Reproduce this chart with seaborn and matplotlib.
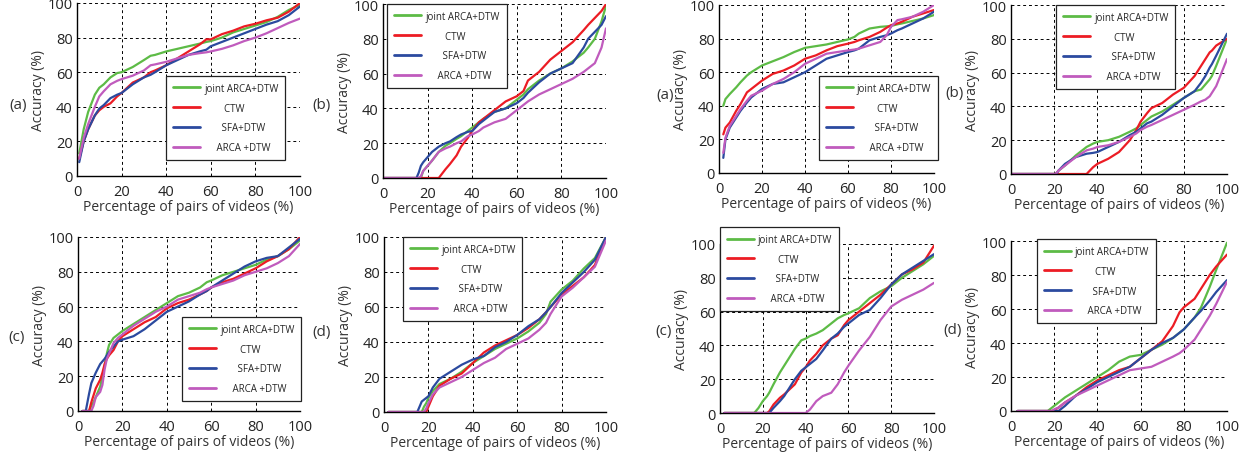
import matplotlib
matplotlib.use('Agg')
import matplotlib.pyplot as plt
import pandas as pd
import seaborn as sns

methods = ['joint ARCA+DTW', 'CTW', 'SFA+DTW', 'ARCA +DTW']
colors = ['#5dbb46', '#ec1c24', '#2b4a9f', '#c05bbd']

# top row, left half (a)
p1_x = [1, 3, 5, 8, 10, 12, 15, 18, 20, 25, 30, 33, 35, 40, 45, 50, 55, 58, 60, 65, 70, 75, 80, 85, 90, 95, 100]
p1_joint = [13, 27, 37, 47, 51, 53, 57, 59.5, 60, 63, 67, 69.5, 70, 72, 73.5, 75, 76.5, 77.5, 78, 80, 83, 85, 87, 89, 92, 96, 99]
p1_ctw = [10, 20, 27, 35, 38, 40, 42, 46, 48, 54, 57, 60, 61, 64, 68, 72, 76, 79, 79, 82, 84, 86.5, 88, 90, 91.5, 95, 100]
p1_sfa = [8, 20, 27, 35, 39, 41, 45, 47, 48, 53, 57, 58.5, 60, 64, 67, 70, 72, 73, 75, 77.5, 80, 82.5, 85, 87.5, 89.5, 93, 98]
p1_arca = [10, 22, 30, 40, 46, 49, 53, 55, 56, 58, 61, 64, 64.5, 66, 68, 70, 71, 71.5, 72, 73.5, 75.5, 78, 80, 82.5, 85.5, 88.5, 91]

# top row, left half (b)
p2_x = [0, 15, 16, 17, 18, 20, 22, 25, 28, 30, 33, 35, 38, 40, 43, 45, 50, 55, 60, 63, 65, 70, 75, 80, 85, 90, 92, 95, 98, 100]
p2_joint = [0, 0, 0, 0, 4, 7, 10, 15, 18.5, 20, 22.5, 24, 27, 29, 32, 34, 38, 40, 45, 48, 51, 56, 60, 63, 67, 72, 75, 80, 90, 99]
p2_ctw = [0, 0, 0, 0, 0, 0, 0, 0, 5, 8, 13, 18, 23, 27, 32, 34, 39, 44, 47, 50, 56, 61, 68, 73, 78, 85, 88, 92, 96, 100]
p2_sfa = [0, 0, 3, 7, 9, 12, 15, 18, 20, 21, 23.5, 25, 26.5, 27, 31, 33, 38, 40, 43, 46, 49, 55, 60, 63, 66, 75, 80, 84, 88, 93]
p2_arca = [0, 0, 0, 1, 4, 7, 10, 15, 17, 18, 20, 21, 24, 25, 27, 29, 32, 34, 39, 42, 44, 48, 51, 54, 57, 61, 63, 66, 75, 86]

# top row, right half (a)
p3_x = [2, 3, 5, 8, 10, 13, 15, 20, 25, 30, 35, 40, 45, 50, 55, 60, 63, 65, 70, 75, 78, 80, 83, 85, 90, 95, 100]
p3_joint = [40, 44, 47, 51, 54, 58, 60, 64, 66.5, 69, 72, 74.5, 75.5, 76.5, 78, 79.5, 81, 83, 86, 87, 87.3, 87.5, 88.5, 89, 90.5, 92, 94]
p3_ctw = [23, 27, 30, 37, 41, 48, 50, 55, 59, 61, 64, 68, 70, 73, 75.5, 77, 78, 79, 81, 84, 86.5, 88, 89, 90, 93, 95, 97]
p3_sfa = [9, 20, 27, 33, 37, 42, 45, 50, 53, 54, 57, 60, 64, 68, 70, 72, 73, 74, 79, 81, 82, 83, 85, 86, 89, 92, 96]
p3_arca = [12, 21, 28, 34, 38, 43, 46, 49, 53, 56, 60, 65, 68, 71, 72, 73, 73.5, 74, 76, 78, 82, 87, 91, 91.5, 93, 96, 100]

# top row, right half (b)
p4_x = [0, 20, 21, 22, 25, 30, 35, 38, 40, 45, 50, 55, 58, 60, 63, 65, 70, 75, 80, 85, 88, 90, 92, 93, 95, 100]
p4_joint = [0, 0, 0.5, 2, 5, 11, 16, 18, 19, 20, 22, 25, 27, 29, 32, 34, 37, 41, 45, 49, 50, 53, 56, 58, 64, 80]
p4_ctw = [0, 0, 0, 0, 0, 0, 0, 4, 6, 9, 13, 20, 26, 31, 36, 39, 42, 47, 51, 58, 64, 68, 72, 73, 76, 80]
p4_sfa = [0, 0, 0, 2, 6, 10, 12, 12.5, 13, 16, 19, 23, 25, 27, 30, 31, 35, 40, 45, 49, 54, 58, 63, 65, 70, 83]
p4_arca = [0, 0, 0.5, 2, 5, 10, 14, 15, 16, 17, 19, 22, 24, 26, 28, 29, 32, 35, 38, 41, 43, 44, 46, 48, 52, 68]

# bottom row, left half (c)
p5_x = [2, 3.5, 5, 6, 7, 8, 10, 11, 12, 13, 14, 16, 18, 20, 25, 30, 35, 40, 45, 50, 55, 58, 60, 65, 70, 75, 80, 85, 90, 95, 100]
p5_joint = [0, 0, 0, 3, 5, 8, 14, 20, 26, 33, 38, 42, 44, 46, 50, 54, 58, 62, 66, 68, 71, 74, 75, 78, 80, 82, 84, 87, 89, 93, 98]
p5_ctw = [0, 0, 0, 5, 9, 13, 18, 22, 27, 30, 32, 35, 40, 43, 47, 51, 54, 59, 62, 64, 67, 69, 71, 74, 76, 79, 82, 86, 89, 93, 100]
p5_sfa = [0, 0, 10, 16, 19, 22, 27, 28.5, 30, 32, 34, 37, 40, 41, 43, 47, 52, 57, 60, 63, 67, 69, 71, 75, 79, 83, 86, 88, 89, 94, 99]
p5_arca = [0, 0, 0, 0, 3, 8, 11, 15, 24, 30, 33, 39, 42, 44, 49, 53, 57, 60, 64, 66, 68, 70, 71, 73, 75, 78, 80, 82, 85, 89, 96]

# bottom row, left half (d)
p6_x = [2, 15, 16, 17, 18, 19, 20, 22, 25, 30, 35, 40, 45, 50, 55, 60, 65, 70, 73, 75, 80, 85, 90, 95, 100]
p6_joint = [0, 0, 0, 0, 3, 5, 8, 12, 16, 19, 23, 28, 32, 36, 39, 42, 46, 51, 56, 63, 70, 75, 82, 88, 100]
p6_ctw = [0, 0, 0, 0, 0, 0, 3, 9, 15, 19, 22, 28, 34, 38, 41, 44, 48, 53, 57, 60, 67, 72, 77, 84, 100]
p6_sfa = [0, 0, 3, 6, 7, 8, 9, 14, 19, 23, 27, 30, 32, 37, 40, 44, 49, 53, 57, 60, 68, 74, 80, 87, 100]
p6_arca = [0, 0, 0, 0, 0, 2, 5, 10, 14, 17, 20, 24, 28, 31, 36, 39, 42, 47, 51, 56, 66, 71, 77, 83, 98]

# bottom row, right half (c)
p7_x = [2, 16, 18, 20, 22, 23, 25, 28, 30, 35, 38, 40, 42, 45, 48, 52, 55, 58, 60, 65, 70, 75, 80, 85, 90, 95, 100]
p7_joint = [0, 0, 3, 7, 10, 12, 17, 24, 28, 38, 43, 44, 45.5, 47, 49, 53, 56, 58, 59, 62, 68, 72, 75, 80, 84, 88, 93]
p7_ctw = [0, 0, 0, 0, 0, 1, 5, 9, 11, 17, 24, 27, 31, 35, 40, 44, 46, 52, 55, 60, 65, 70, 76, 82, 85, 89, 99]
p7_sfa = [0, 0, 0, 0, 0, 0, 3, 7, 10, 20, 25, 27, 29, 32, 37, 44, 47, 51, 53, 58, 61, 68, 76, 82, 86, 90, 94]
p7_arca = [0, 0, 0, 0, 0, 0, 0, 0, 0, 0, 0, 0, 2, 7, 10, 12, 17, 24, 28, 37, 45, 55, 63, 67, 70, 73, 77]

# bottom row, right half (d)
p8_x = [3, 17, 19, 20, 22, 25, 30, 35, 40, 45, 50, 55, 60, 65, 70, 75, 78, 80, 85, 88, 90, 92, 95, 100]
p8_joint = [0, 0, 2, 3, 5, 8, 12, 16, 20, 24, 29, 32, 33, 36, 39, 43, 46, 48, 55, 61, 67, 73, 83, 99]
p8_ctw = [0, 0, 0, 0.5, 2, 5, 9, 14, 18, 21, 24, 26, 31, 36, 41, 50, 58, 61, 66, 72, 76, 80, 85, 92]
p8_sfa = [0, 0, 0, 0, 0, 3, 9, 13, 17, 20, 23, 26, 31, 36, 40, 43, 46, 48, 55, 59, 62, 65, 70, 77]
p8_arca = [0, 0, 0, 1, 2, 5, 9, 12, 15, 18, 21, 24, 25, 26, 29, 32, 34, 36, 42, 48, 52, 56, 63, 76]

panel_names = ['(a)', '(b)', '(a)', '(b)', '(c)', '(d)', '(c)', '(d)']
panels = [
    (p1_x, [p1_joint, p1_ctw, p1_sfa, p1_arca]),
    (p2_x, [p2_joint, p2_ctw, p2_sfa, p2_arca]),
    (p3_x, [p3_joint, p3_ctw, p3_sfa, p3_arca]),
    (p4_x, [p4_joint, p4_ctw, p4_sfa, p4_arca]),
    (p5_x, [p5_joint, p5_ctw, p5_sfa, p5_arca]),
    (p6_x, [p6_joint, p6_ctw, p6_sfa, p6_arca]),
    (p7_x, [p7_joint, p7_ctw, p7_sfa, p7_arca]),
    (p8_x, [p8_joint, p8_ctw, p8_sfa, p8_arca]),
]

# legend labels are roughly centred in the original, pad them with spaces
legend_labels = ['joint ARCA+DTW', '        CTW', '       SFA+DTW', '     ARCA +DTW']

sns.set_style('white')
plt.rcParams['font.family'] = ['Open Sans', 'DejaVu Sans']

W, H = 1251, 456
fig = plt.figure(figsize=(W / 100, H / 100), dpi=100)

# axes boxes in pixels: left, top, right, bottom
boxes = [
    (77, 4, 300, 177), (383, 5, 606, 179), (719, 6, 934, 174), (1011, 6, 1227, 175),
    (78, 238, 300, 412), (384, 238, 606, 413), (720, 245, 934, 414), (1011, 242, 1227, 412),
]
legend_anchor = [
    (0.40, 0.578), (0.02, 1.0), (0.465, 0.577), (0.21, 1.0),
    (0.47, 0.54), (0.086, 1.0), (0.0, 1.10), (0.12, 1.01),
]
name_pos = [(18, 105), (322, 105), (665, 95), (954, 93),
            (17, 337), (322, 333), (664, 332), (953, 331)]

for i, (xs, ys) in enumerate(panels):
    l, t, r, b = boxes[i]
    ax = fig.add_axes([l / W, 1 - b / H, (r - l) / W, (b - t) / H])
    df = pd.concat([
        pd.DataFrame({'x': xs, 'y': y, 'method': m}) for m, y in zip(methods, ys)
    ])
    sns.lineplot(data=df, x='x', y='y', hue='method', hue_order=methods,
                 palette=colors, estimator=None, sort=False, lw=1.6, ax=ax)

    ax.set_xlim(0, 100)
    ax.set_ylim(0, 100)
    ax.set_xticks(range(0, 101, 20))
    ax.set_yticks(range(0, 101, 20))
    ax.grid(True, color='k', ls=(0, (3, 3)), lw=0.7)
    for s in ['top', 'right']:
        ax.spines[s].set_visible(False)
    for s in ['left', 'bottom']:
        ax.spines[s].set_color('k')
        ax.spines[s].set_linewidth(1.0)
    ax.tick_params(direction='in', length=3, labelsize=10.5, colors='#222222')
    ax.tick_params(axis='x', pad=6)
    ax.tick_params(axis='y', pad=3)
    ax.set_xlabel('Percentage of pairs of videos (%)', fontsize=10, labelpad=0, color='#333333')
    ax.set_ylabel('Accuracy (%)', fontsize=10, labelpad=1, color='#333333')

    handles = ax.get_legend().legend_handles
    leg = ax.legend(handles, legend_labels, loc='upper left',
                    bbox_to_anchor=legend_anchor[i], fontsize=7,
                    frameon=True, fancybox=False, framealpha=1, edgecolor='#222222',
                    handlelength=2.8, handletextpad=0.4, labelspacing=0.9,
                    borderpad=0.7, borderaxespad=0)
    leg.get_frame().set_linewidth(0.9)
    for line in leg.get_lines():
        line.set_linewidth(2.0)

    nx, ny = name_pos[i]
    fig.text(nx / W, 1 - ny / H, panel_names[i], fontsize=11, ha='center', va='center',
             color='#333333')

fig.savefig('out.png', dpi=100)
